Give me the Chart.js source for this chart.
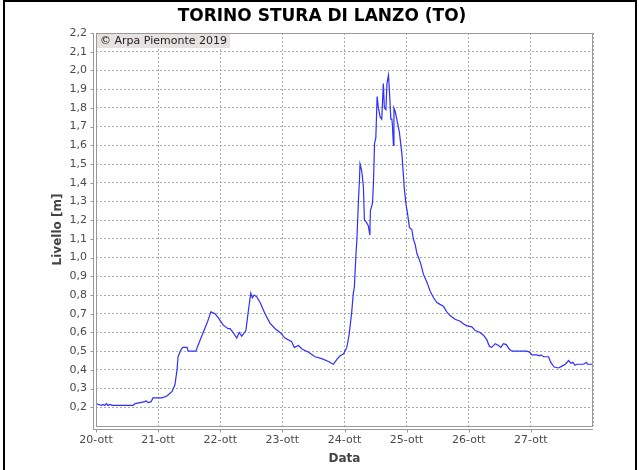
<!DOCTYPE html>
<html>
<head>
<meta charset="utf-8">
<script src="https://cdn.jsdelivr.net/npm/chart.js@4.4.1/dist/chart.umd.min.js"></script>
<style>
  html, body { margin: 0; padding: 0; background: #fff; }
</style>
</head>
<body>
<canvas id="livello" width="639" height="470"></canvas>
<script>
// Idrometro Torino - Stura di Lanzo, livello in metri
const titolo = 'TORINO STURA DI LANZO (TO)';
const credito = '\u00a9 Arpa Piemonte 2019';
const giorni = ['20-ott', '21-ott', '22-ott', '23-ott', '24-ott', '25-ott', '26-ott', '27-ott'];

// ore trascorse dalla mezzanotte del 20-ott
const ore = [
  0, 1, 2, 2.7, 3.3, 4, 4.6, 5.4, 6.2, 8, 14.3, 15.1, 17, 18.9, 19.3, 20.1, 21.3, 22, 24, 25.5,
  27.4, 29.4, 30.5, 31.3, 31.7, 32.9, 33.6, 35.2, 35.6, 38.6, 39.4, 41.4, 42.9, 44.4, 46, 47.1, 49.1, 51, 51.8, 52.9,
  54.4, 55.3, 56.3, 57.9, 58.9, 59.8, 60.4, 61.1, 62.1, 63.4, 65.3, 67.2, 69.2, 71.1, 73, 75.6, 76.6, 78.2, 79.7, 82,
  84.6, 87.2, 89.8, 91.7, 93, 94.3, 95.6, 96.9, 97.8, 98.8, 99.4, 99.8, 100.4, 100.8, 101.4, 101.8, 102, 102.7, 103.3, 103.7,
  104.4, 105.2, 105.8, 106, 106.8, 107.2, 107.6, 108.1, 108.6, 109.1, 109.8, 110.4, 111, 111.4, 112, 112.4, 113, 113.4, 113.9, 114.3,
  114.5, 114.9, 115.1, 115.6, 116.2, 117.2, 118.2, 119.1, 119.8, 120.3, 121.1, 122, 122.6, 123.3, 124, 124.6, 125.5, 126.5, 127.8, 129.1,
  130.4, 131.7, 132.9, 134.2, 135.5, 136.8, 138.7, 140.7, 142, 143.3, 145.2, 146.5, 148.4, 149.7, 151, 152, 152.9, 154.2, 155.5, 156.4,
  157.4, 158.5, 159.7, 160.7, 161.9, 166.4, 167.5, 168.4, 170.3, 171.3, 171.9, 172.9, 174.8, 175.7, 177, 178.7, 180, 181.3, 182.6, 183.5,
  184.2, 185.1, 185.8, 188.4, 189.4, 189.9, 192
];
const livello = [
  0.22, 0.215, 0.21, 0.215, 0.21, 0.22, 0.21, 0.215, 0.21, 0.21, 0.21, 0.22, 0.225, 0.23, 0.235, 0.225, 0.23, 0.25, 0.25, 0.25,
  0.26, 0.285, 0.32, 0.40, 0.47, 0.51, 0.52, 0.52, 0.50, 0.50, 0.53, 0.60, 0.65, 0.71, 0.70, 0.68, 0.64, 0.62, 0.62, 0.60,
  0.57, 0.60, 0.58, 0.61, 0.72, 0.81, 0.785, 0.80, 0.79, 0.76, 0.70, 0.65, 0.62, 0.60, 0.57, 0.55, 0.52, 0.53, 0.51, 0.495,
  0.47, 0.46, 0.445, 0.43, 0.455, 0.475, 0.485, 0.52, 0.59, 0.71, 0.81, 0.84, 1.01, 1.10, 1.31, 1.42, 1.50, 1.46, 1.38, 1.20,
  1.19, 1.17, 1.12, 1.25, 1.29, 1.40, 1.61, 1.64, 1.86, 1.80, 1.75, 1.74, 1.93, 1.80, 1.79, 1.93, 1.975, 1.88, 1.74, 1.74,
  1.71, 1.60, 1.80, 1.78, 1.74, 1.67, 1.55, 1.37, 1.28, 1.24, 1.16, 1.15, 1.10, 1.07, 1.02, 1.00, 0.965, 0.91, 0.87, 0.82,
  0.785, 0.76, 0.75, 0.74, 0.71, 0.69, 0.67, 0.66, 0.645, 0.635, 0.63, 0.61, 0.60, 0.585, 0.56, 0.525, 0.52, 0.54, 0.53, 0.52,
  0.54, 0.535, 0.51, 0.50, 0.50, 0.50, 0.495, 0.48, 0.48, 0.475, 0.48, 0.47, 0.47, 0.44, 0.415, 0.41, 0.42, 0.43, 0.45, 0.435,
  0.44, 0.425, 0.43, 0.43, 0.44, 0.43, 0.43
];

const FONT = "'DejaVu Sans', sans-serif";
const GRIGIO = '#999999';

// cornice, bordo del grafico, assi sfalsati e riquadro del credito
const decorazioni = {
  id: 'decorazioni',
  beforeDraw(chart) {
    const ctx = chart.ctx;
    ctx.save();
    ctx.fillStyle = '#fff';
    ctx.fillRect(0, 0, chart.width, chart.height);
    ctx.restore();
  },
  afterDatasetsDraw(chart) {
    const { ctx, chartArea: a, scales } = chart;
    ctx.save();
    // riquadro credito
    ctx.font = '11px ' + FONT;
    const w = ctx.measureText(credito).width + 6;
    ctx.fillStyle = '#e8e1e2';
    ctx.fillRect(a.left + 1, a.top, w, 15);
    ctx.fillStyle = '#222';
    ctx.textBaseline = 'middle';
    ctx.fillText(credito, a.left + 4, a.top + 8);

    // bordo dell'area dati
    ctx.strokeStyle = GRIGIO;
    ctx.lineWidth = 1;
    ctx.strokeRect(a.left + 0.5, a.top + 0.5, a.right - a.left - 1, a.bottom - a.top);

    // assi con tacche
    ctx.beginPath();
    const ax = a.left - 2.5, ay = a.bottom + 3.5;
    ctx.moveTo(ax, a.top);
    ctx.lineTo(ax, ay);
    ctx.moveTo(ax, ay);
    ctx.lineTo(a.right, ay);
    for (let i = 0; i < giorni.length; i++) {
      const px = Math.round(scales.x.getPixelForValue(i * 24)) + 0.5;
      ctx.moveTo(px, ay);
      ctx.lineTo(px, ay + 3);
    }
    for (let v = 2; v <= 22; v++) {
      const py = Math.round(scales.y.getPixelForValue(v / 10)) + 0.5;
      ctx.moveTo(ax, py);
      ctx.lineTo(ax - 3, py);
    }
    ctx.stroke();

    // cornice nera esterna
    ctx.fillStyle = '#000';
    ctx.fillRect(3, 0, 634, 2);
    ctx.fillRect(3, 0, 2, chart.height);
    ctx.fillRect(635, 0, 2, chart.height);
    ctx.restore();
  }
};

new Chart(document.getElementById('livello'), {
  type: 'line',
  data: {
    datasets: [{
      data: ore.map((h, i) => ({ x: h, y: livello[i] })),
      borderColor: '#2f2fff',
      borderWidth: 1.2,
      pointRadius: 0,
      tension: 0,
      fill: false,
    }],
  },
  options: {
    responsive: false,
    animation: false,
    devicePixelRatio: 1,
    layout: { padding: { left: 51, right: 46, top: 0, bottom: 0 } },
    plugins: {
      legend: { display: false },
      tooltip: { enabled: false },
      title: {
        display: true,
        text: titolo,
        color: '#000',
        font: { family: FONT, size: 17, weight: 'bold' },
        padding: { top: 6, bottom: 6.6 },
      },
    },
    scales: {
      x: {
        type: 'linear',
        min: 0,
        max: 192,
        afterFit: (s) => { s.height = 44; },
        afterBuildTicks: (s) => {
          s.ticks = giorni.map((g, i) => ({ value: i * 24 })).concat([{ value: 192 }]);
        },
        ticks: {
          color: '#4a4a4a',
          font: { family: FONT, size: 11 },
          padding: 8,
          maxRotation: 0,
          autoSkip: false,
          callback: (v) => giorni[v / 24] || '',
        },
        grid: { color: '#aaaaaa', drawTicks: false, tickLength: 0 },
        border: { display: false, dash: [2, 2] },
        title: {
          display: true,
          text: 'Data',
          color: '#444',
          font: { family: FONT, size: 12, weight: 'bold' },
          padding: { top: 0, bottom: 4 },
        },
      },
      y: {
        min: 0.1,
        max: 2.2,
        afterFit: (s) => { s.width = 45; },
        ticks: {
          stepSize: 0.1,
          color: '#4a4a4a',
          font: { family: FONT, size: 11 },
          padding: 9,
          callback: (v) => (v < 0.15 ? '' : v.toFixed(1).replace('.', ',')),
        },
        grid: { color: '#aaaaaa', drawTicks: false, tickLength: 0 },
        border: { display: false, dash: [2, 2] },
        title: {
          display: true,
          text: 'Livello [m]',
          color: '#444',
          font: { family: FONT, size: 12, weight: 'bold' },
          padding: { top: 0, bottom: 0 },
        },
      },
    },
  },
  plugins: [decorazioni],
});
</script>
</body>
</html>
